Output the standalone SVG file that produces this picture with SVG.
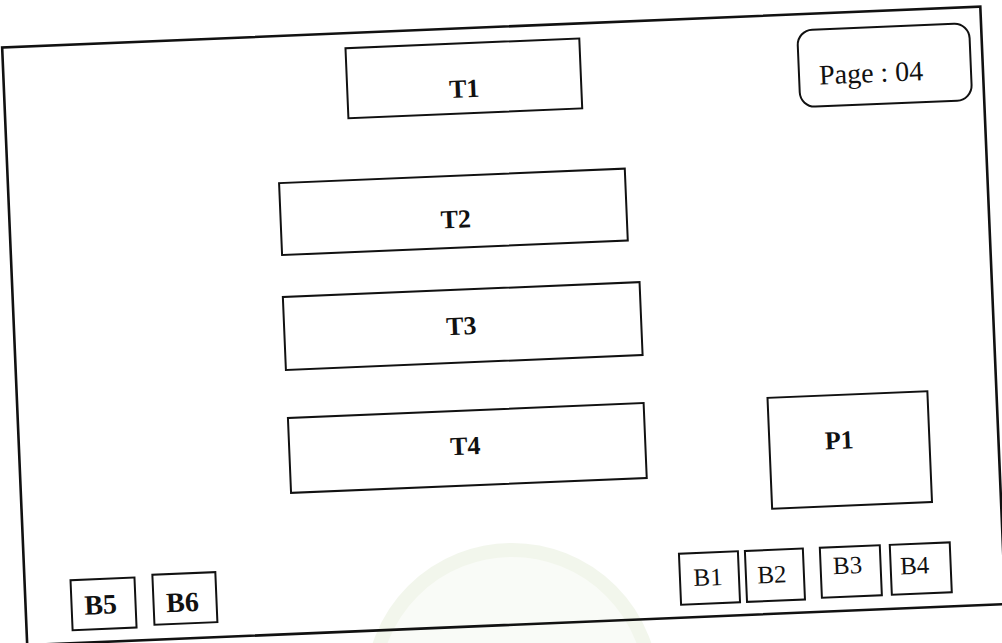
<svg xmlns="http://www.w3.org/2000/svg" width="1002" height="643" viewBox="0 0 1002 643">
  <style>
    .box { fill: none; stroke: #111; stroke-width: 2; }
    .frame { fill: none; stroke: #111; stroke-width: 2.6; }
    .lb { font-family: "Liberation Serif", "Times New Roman", serif; font-weight: bold; font-size: 26px; fill: #111; text-anchor: middle; }
    .lbb { font-size: 28px; }
    .lr { font-family: "Liberation Serif", "Times New Roman", serif; font-size: 25px; fill: #111; text-anchor: middle; }
    .pg { font-family: "Liberation Serif", "Times New Roman", serif; font-size: 28px; fill: #111; }
  </style>
  <rect width="1002" height="643" fill="#ffffff"/>
  <g id="watermark" opacity="0.45">
    <circle cx="512" cy="690" r="140" fill="#f3f7ee" stroke="#e3ecd6" stroke-width="14"/>
  </g>
  <g transform="rotate(-2.4 500 320)">
    <g id="frame"><rect class="frame" x="14" y="27" width="979" height="598"/></g>
    <g id="T1"><rect class="box" x="357" y="42" width="234" height="70"/><text class="lb" x="474" y="96">T1</text></g>
    <g id="page"><rect class="box" x="809" y="43" width="172" height="77" rx="15" ry="15"/><text class="pg" x="829" y="98">Page : 04</text></g>
    <g id="T2"><rect class="box" x="285" y="174" width="346" height="72"/><text class="lb" x="460" y="226">T2</text></g>
    <g id="T3"><rect class="box" x="284" y="288" width="357" height="73"/><text class="lb" x="461" y="333">T3</text></g>
    <g id="T4"><rect class="box" x="284" y="409" width="356" height="75"/><text class="lb" x="460" y="453">T4</text></g>
    <g id="P1"><rect class="box" x="764" y="409" width="160" height="111"/><text class="lb" x="834" y="463">P1</text></g>
    <g id="B5"><rect class="box" x="60" y="562" width="64" height="50"/><text class="lb lbb" x="89" y="597">B5</text></g>
    <g id="B6"><rect class="box" x="142" y="560" width="63" height="50"/><text class="lb lbb" x="171" y="598">B6</text></g>
    <g id="B1"><rect class="box" x="669" y="561" width="59" height="51"/><text class="lr" x="697" y="594">B1</text></g>
    <g id="B2"><rect class="box" x="735" y="561" width="58" height="51"/><text class="lr" x="761" y="594">B2</text></g>
    <g id="B3"><rect class="box" x="810" y="561" width="60" height="50"/><text class="lr" x="837" y="588">B3</text></g>
    <g id="B4"><rect class="box" x="880" y="561" width="60" height="50"/><text class="lr" x="904" y="591">B4</text></g>
    <g id="connectors"></g>
  </g>
</svg>
